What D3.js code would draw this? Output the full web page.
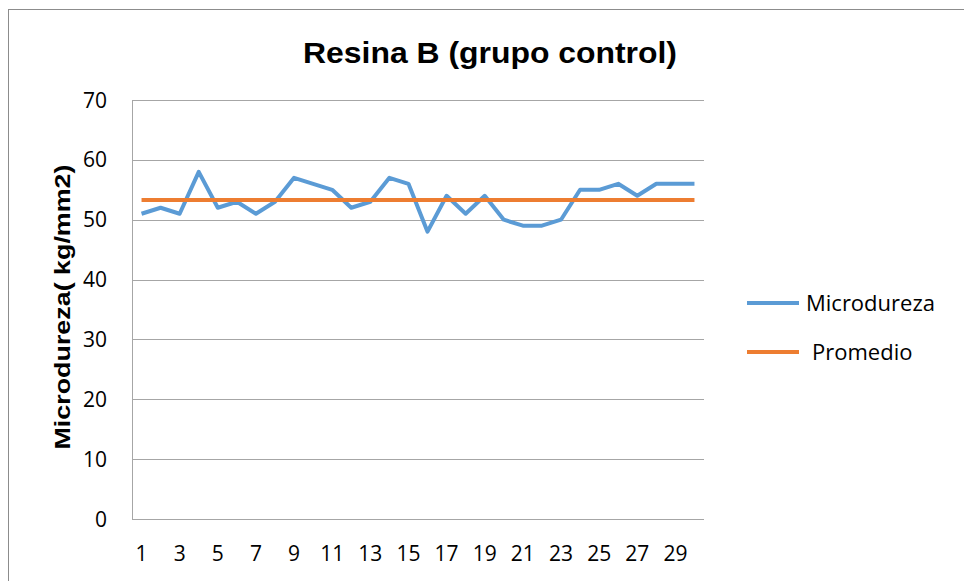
<!DOCTYPE html>
<html>
<head>
<meta charset="utf-8">
<script src="https://cdn.jsdelivr.net/npm/d3@7/dist/d3.min.js"></script>
<style>
  body { margin: 0; background: #fff; }
</style>
</head>
<body>
<div id="container"></div>
<script>
"use strict";

// data
const muestras = d3.range(1, 31);
const microdureza = [51, 52, 51, 58, 52, 53, 51, 53, 57, 56, 55, 52, 53, 57, 56,
	48, 54, 51, 54, 50, 49, 49, 50, 55, 55, 56, 54, 56, 56, 56];
const promedio = [53.3, 53.3, 53.3, 53.3, 53.3, 53.3, 53.3, 53.3, 53.3, 53.3,
	53.3, 53.3, 53.3, 53.3, 53.3, 53.3, 53.3, 53.3, 53.3, 53.3,
	53.3, 53.3, 53.3, 53.3, 53.3, 53.3, 53.3, 53.3, 53.3, 53.3];
const yTicks = [0, 10, 20, 30, 40, 50, 60, 70];
const xTickLabels = muestras.filter((d) => d % 2 === 1);
const seriesNames = ["Microdureza", "Promedio"];
const seriesColors = ["#5B9BD5", "#ED7D31"];

const W = 964,
	H = 581;
const plot = { left: 132, right: 704, top: 100, bottom: 519 };

const svg = d3
	.select("#container")
	.append("svg")
	.attr("width", W)
	.attr("height", H);

// chart frame (runs off the right/bottom edge like the source)
svg.append("rect")
	.attr("x", 8.5)
	.attr("y", 9.5)
	.attr("width", 1000)
	.attr("height", 1000)
	.attr("fill", "#fff")
	.attr("stroke", "#8c8c8c");

const x = d3
	.scaleBand()
	.domain(muestras)
	.range([plot.left, plot.right]);
const y = d3.scaleLinear().domain([0, 70]).range([plot.bottom, plot.top]);

// gridlines
svg.append("g")
	.selectAll("line")
	.data(yTicks)
	.enter()
	.append("line")
	.attr("x1", plot.left)
	.attr("x2", plot.right)
	.attr("y1", (d) => Math.round(y(d)) + 0.5)
	.attr("y2", (d) => Math.round(y(d)) + 0.5)
	.attr("stroke", "#a6a6a6")
	.attr("stroke-width", 1);

// left axis line
svg.append("line")
	.attr("x1", plot.left + 0.5)
	.attr("x2", plot.left + 0.5)
	.attr("y1", plot.top)
	.attr("y2", plot.bottom)
	.attr("stroke", "#a6a6a6");

// y tick labels
svg.append("g")
	.selectAll("text")
	.data(yTicks)
	.enter()
	.append("text")
	.attr("x", 107)
	.attr("y", (d) => y(d))
	.attr("dy", "0.36em")
	.attr("text-anchor", "end")
	.attr("font-family", "Open Sans, sans-serif")
	.attr("font-size", 21)
	.attr("fill", "#000")
	.text((d) => d);

// x tick labels (odd only)
svg.append("g")
	.selectAll("text")
	.data(xTickLabels)
	.enter()
	.append("text")
	.attr("x", (d) => x(d) + x.bandwidth() / 2)
	.attr("y", 561)
	.attr("text-anchor", "middle")
	.attr("font-family", "Open Sans, sans-serif")
	.attr("font-size", 21)
	.attr("fill", "#000")
	.text((d) => d);

// title
svg.append("text")
	.attr("x", 490)
	.attr("y", 63)
	.attr("text-anchor", "middle")
	.attr("font-family", "Liberation Sans, Arial, sans-serif")
	.attr("font-weight", "bold")
	.attr("font-size", 29)
	.attr("textLength", 374)
	.attr("lengthAdjust", "spacingAndGlyphs")
	.text("Resina B (grupo control)");

// y axis title
svg.append("text")
	.attr("transform", "translate(70,307) rotate(-90)")
	.attr("text-anchor", "middle")
	.attr("font-family", "Liberation Sans, Arial, sans-serif")
	.attr("font-weight", "bold")
	.attr("font-size", 22)
	.attr("textLength", 285)
	.attr("lengthAdjust", "spacingAndGlyphs")
	.text("Microdureza( kg/mm2)");

// lines
const line = d3
	.line()
	.x((d, i) => x(muestras[i]) + x.bandwidth() / 2)
	.y((d) => y(d));

[microdureza, promedio].forEach((s, i) => {
	svg.append("path")
		.datum(s)
		.attr("d", line)
		.attr("fill", "none")
		.attr("stroke", seriesColors[i])
		.attr("stroke-width", 4)
		.attr("stroke-linejoin", "round");
});

// legend
const legend = svg
	.append("g")
	.selectAll("g")
	.data(seriesNames)
	.enter()
	.append("g")
	.attr("transform", (d, i) => `translate(747,${303 + i * 49})`);
legend
	.append("line")
	.attr("x1", 0)
	.attr("x2", 52)
	.attr("stroke", (d, i) => seriesColors[i])
	.attr("stroke-width", 4);
legend
	.append("text")
	.attr("x", (d, i) => (i === 0 ? 59 : 65))
	.attr("dy", "0.36em")
	.attr("font-family", "Open Sans, sans-serif")
	.attr("font-size", 22)
	.attr("fill", "#000")
	.text((d) => d);
</script>
</body>
</html>
